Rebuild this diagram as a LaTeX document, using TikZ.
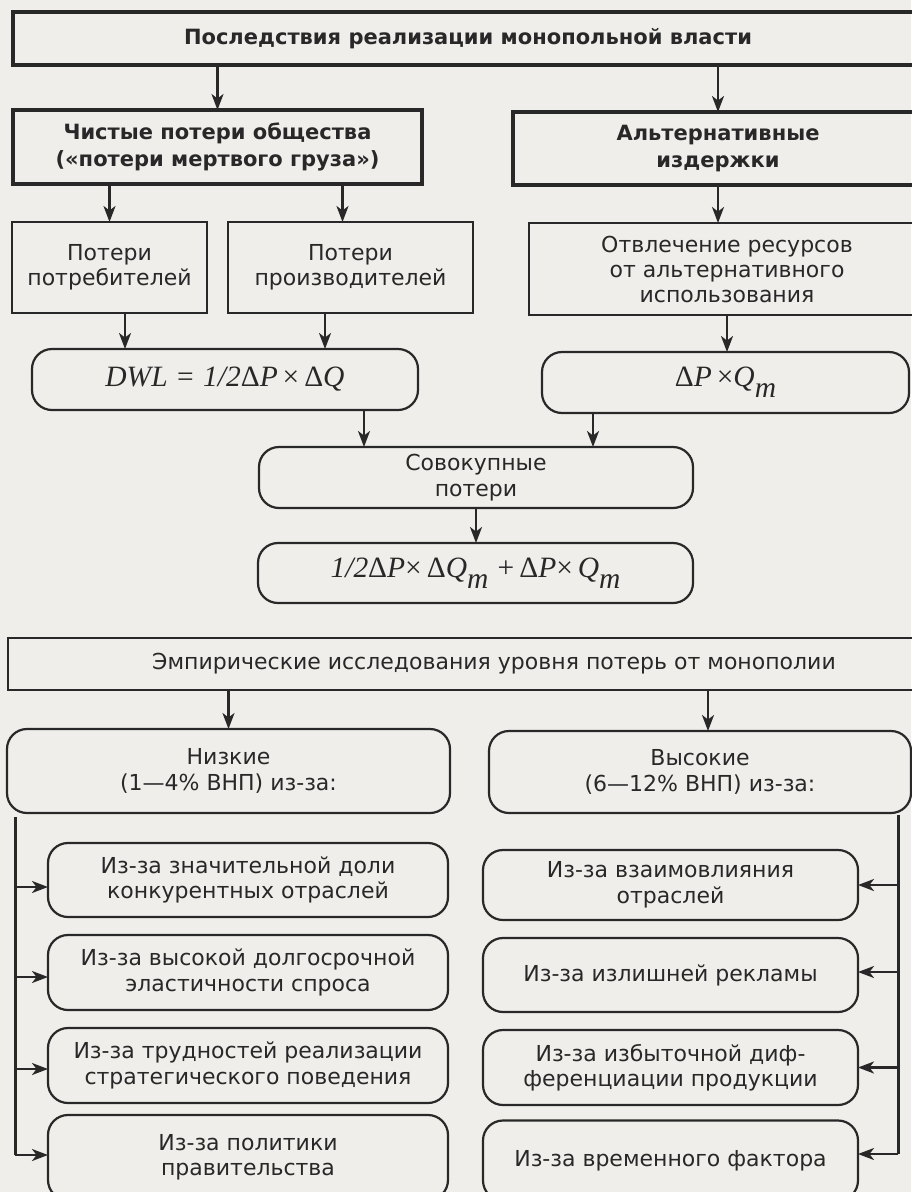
\documentclass[tikz,border=0pt]{standalone}
\usepackage{fontspec}
\setmainfont{DejaVu Sans}
\newfontfamily\tmsfont{Liberation Serif}
\usetikzlibrary{arrows.meta,calc}
\definecolor{ink}{RGB}{40,40,40}
\definecolor{bg}{RGB}{240,238,235}
\newcommand{\frmI}[1]{{\tmsfont\itshape #1}}
\newcommand{\frmR}[1]{{\tmsfont #1}}
\newcommand{\subm}{\raisebox{-0.36em}{\frmI{m}}}
\begin{document}
\begin{tikzpicture}[x=1pt,y=-1pt,
  every node/.style={inner sep=0pt, outer sep=0pt, align=center, text=ink},
  thickbox/.style={draw=ink, line width=4.2pt, rectangle, font=\fontsize{21}{27}\selectfont\bfseries},
  plainbox/.style={draw=ink, line width=2.2pt, rectangle, font=\fontsize{22}{25}\selectfont},
  pill/.style={draw=ink, line width=2.2pt, rectangle, rounded corners=20pt, font=\fontsize{22}{25.5}\selectfont},
  formula/.style={font=\fontsize{29.5}{32}\selectfont},
  arr/.style={draw=ink, line width=2.2pt, -{Stealth[length=16pt,width=12pt,inset=4.5pt]}},
  bar/.style={draw=ink, line width=3pt}]
\fill[bg] (0,0) rectangle (911,1192);
\useasboundingbox (0,0) rectangle (911,1192);

% top level
\node[thickbox, minimum width=910pt, minimum height=53pt] (T) at (468,38.5) {Последствия реализации монопольной власти};
\node[thickbox, minimum width=409pt, minimum height=74pt] (A) at (217.5,147) {Чистые потери общества\\(«потери мертвого груза»)};
\node[thickbox, minimum width=410pt, minimum height=73pt] (B) at (718,148.5) {Альтернативные\\издержки};

\node[plainbox, minimum width=195pt, minimum height=91pt] (C1) at (109.5,267.5) {Потери\\потребителей};
\node[plainbox, minimum width=245pt, minimum height=91pt] (C2) at (350.5,267.5) {Потери\\производителей};
\node[plainbox, minimum width=396pt, minimum height=92pt] (C3) at (727,269) {Отвлечение ресурсов\\от альтернативного\\использования};

\node[pill, formula, minimum width=386pt, minimum height=61pt] (D) at (225,379.5)
  {\frmI{DWL} \frmR{=} \frmI{1/2}\frmR{Δ}\frmI{P}\,\frmR{×}\,\frmR{Δ}\frmI{Q}};
\node[pill, formula, minimum width=367pt, minimum height=61pt] (E) at (725.5,382.5)
  {\frmR{Δ}\frmI{P}\,\frmR{×}\frmI{Q}\subm};

\node[pill, minimum width=434pt, minimum height=61pt] (F) at (476,477.5) {Совокупные\\потери};
\node[pill, formula, minimum width=435pt, minimum height=60pt] (G) at (475.5,573)
  {\frmI{1/2}\frmR{Δ}\frmI{P}\frmR{×}\,\frmR{Δ}\frmI{Q}\subm\ \frmR{+}\,\frmR{Δ}\frmI{P}\frmR{×}\,\frmI{Q}\subm};

\node[plainbox, minimum width=972pt, minimum height=52pt] (H) at (494,664) {Эмпирические исследования уровня потерь от монополии};

\node[pill, minimum width=443pt, minimum height=84pt] (I) at (228.5,771) {Низкие\\(1—4\% ВНП) из-за:};
\node[pill, minimum width=422pt, minimum height=82pt] (J) at (700,772) {Высокие\\(6—12\% ВНП) из-за:};

\node[pill, minimum width=400pt, minimum height=74pt] (L1) at (248,880) {Из-за значительной доли\\конкурентных отраслей};
\node[pill, minimum width=400pt, minimum height=75pt] (L2) at (248,972.5) {Из-за высокой долгосрочной\\эластичности спроса};
\node[pill, minimum width=400pt, minimum height=75pt] (L3) at (248,1065.5) {Из-за трудностей реализации\\стратегического поведения};
\node[pill, minimum width=400pt, minimum height=85pt] (L4) at (248,1157.5) {Из-за политики\\правительства};

\node[pill, minimum width=375pt, minimum height=70pt] (R1) at (670.5,885) {Из-за взаимовлияния\\отраслей};
\node[pill, minimum width=375pt, minimum height=74pt] (R2) at (670.5,975) {Из-за излишней рекламы};
\node[pill, minimum width=375pt, minimum height=75pt] (R3) at (670.5,1067.5) {Из-за избыточной диф-\\ференциации продукции};
\node[pill, minimum width=375pt, minimum height=80pt] (R4) at (670.5,1160.5) {Из-за временного фактора};

% connectors
\draw[arr] (T.south -| A.north) -- (A.north);
\draw[arr] (T.south -| B.north) -- (B.north);
\draw[arr] (A.south -| C1.north) -- (C1.north);
\draw[arr] ($(A.south -| C2.north)+(-8,0)$) -- ($(C2.north)+(-8,0)$);
\draw[arr] ($(B.south -| C3.north)+(-9,0)$) -- ($(C3.north)+(-9,0)$);
\draw[arr] ($(C1.south)+(15.5,0)$) -- ($(C1.south |- D.north)+(15.5,0)$);
\draw[arr] ($(C2.south)+(-25.5,0)$) -- ($(C2.south |- D.north)+(-25.5,0)$);
\draw[arr] (C3.south) -- (C3.south |- E.north);
\draw[arr] ($(D.south)+(139,0)$) -- ($(D.south |- F.north)+(139,0)$);
\draw[arr] ($(E.south)+(-132.5,0)$) -- ($(E.south |- F.north)+(-132.5,0)$);
\draw[arr] (F.south) -- (F.south |- G.north);
\draw[arr] (H.south -| I.north) -- (I.north);
\draw[arr] ($(H.south -| J.north)+(8,0)$) -- ($(J.north)+(8,0)$);

\coordinate (lb) at ($(I.south west)+(8,4)$);
\coordinate (rb) at ($(J.south east)+(-13,2)$);
\draw[bar] (lb) -- ($(lb |- L4.west)+(0,-2.5)$);
\draw[arr] ($(lb |- L1.west)+(0,7)$) -- ($(L1.west)+(0,7)$);
\draw[arr] ($(lb |- L2.west)+(0,4.5)$) -- ($(L2.west)+(0,4.5)$);
\draw[arr] ($(lb |- L3.west)+(0,3.5)$) -- ($(L3.west)+(0,3.5)$);
\draw[arr] ($(lb |- L4.west)+(0,-2.5)$) -- ($(L4.west)+(0,-2.5)$);

\draw[bar] (rb) -- ($(rb |- R4.east)+(0,-6.5)$);
\draw[arr] (rb |- R1.east) -- (R1.east);
\draw[arr] ($(rb |- R2.east)+(0,-3)$) -- ($(R2.east)+(0,-3)$);
\draw[arr] (rb |- R3.east) -- (R3.east);
\draw[arr] ($(rb |- R4.east)+(0,-6.5)$) -- ($(R4.east)+(0,-6.5)$);
\end{tikzpicture}
\end{document}
